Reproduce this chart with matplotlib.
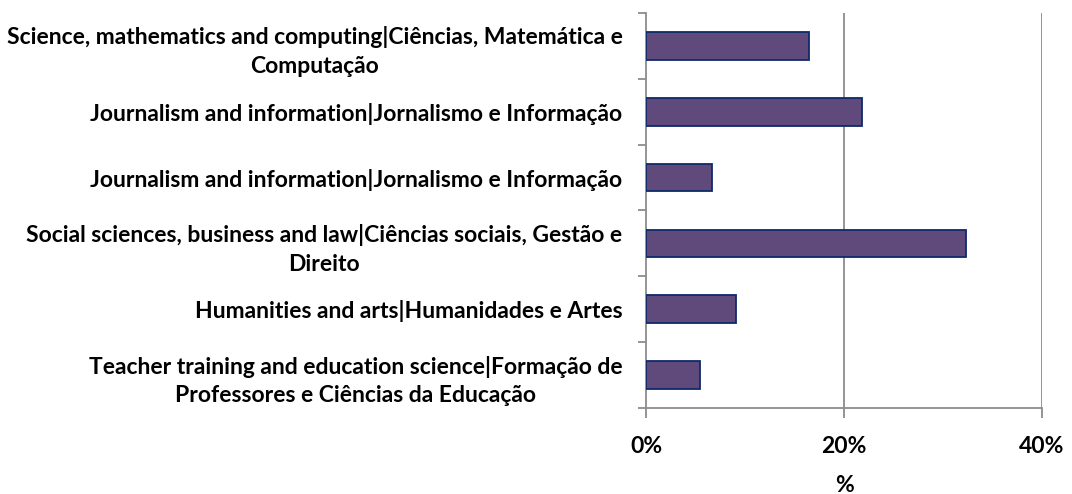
import matplotlib
matplotlib.use("Agg")
import matplotlib.pyplot as plt
import numpy as np

# categories from top to bottom
categories = [
    "Science, mathematics and computing|Ciências, Matemática e\nComputação",
    "Journalism and information|Jornalismo e Informação",
    "Journalism and information|Jornalismo e Informação",
    "Social sciences, business and law|Ciências sociais, Gestão e\nDireito",
    "Humanities and arts|Humanidades e Artes",
    "Teacher training and education science|Formação de\nProfessores e Ciências da Educação",
]
values = [16.5, 21.8, 6.7, 32.3, 9.1, 5.5]
x_ticks = [0, 20, 40]
x_labels = ["0%", "20%", "40%"]

bar_color = "#604A7B"
edge_color = "#0E2A6A"
axis_color = "#8C8C8C"

plt.rcParams["font.family"] = ["Lato", "DejaVu Sans"]
plt.rcParams["font.weight"] = "bold"

fig = plt.figure(figsize=(10.72, 4.94), dpi=100)
ax = fig.add_axes([646 / 1072, 1 - 408 / 494, (1042 - 646) / 1072, (408 - 13) / 494])

n = len(categories)
pos = np.arange(n)[::-1]
ax.barh(pos, values, height=0.42, color=bar_color, edgecolor=edge_color, linewidth=1.3, zorder=3)

ax.set_xlim(0, 40)
ax.set_ylim(-0.5, n - 0.5)

# gridlines
for t in x_ticks[1:]:
    ax.axvline(t, color=axis_color, linewidth=1.3, zorder=1)

for side in ["top", "right"]:
    ax.spines[side].set_visible(False)
for side in ["left", "bottom"]:
    ax.spines[side].set_color(axis_color)
    ax.spines[side].set_linewidth(1.3)

ax.set_xticks(x_ticks)
ax.set_xticklabels(x_labels, fontsize=16.5, fontweight="bold")
ax.tick_params(axis="x", length=7, width=1.3, color=axis_color, pad=13)

ax.set_yticks(np.arange(n + 1) - 0.5)
ax.set_yticklabels([])
ax.tick_params(axis="y", which="major", length=6, width=1.3, color=axis_color)
ax.set_yticks(pos, minor=True)
ax.set_yticklabels(categories, minor=True, fontsize=16.5, fontweight="bold",
                   multialignment="center", linespacing=1.45)
ax.tick_params(axis="y", which="minor", length=0, pad=17)

ax.set_xlabel("%", fontsize=16.5, fontweight="bold", labelpad=13)

fig.savefig("out.png", dpi=100)
